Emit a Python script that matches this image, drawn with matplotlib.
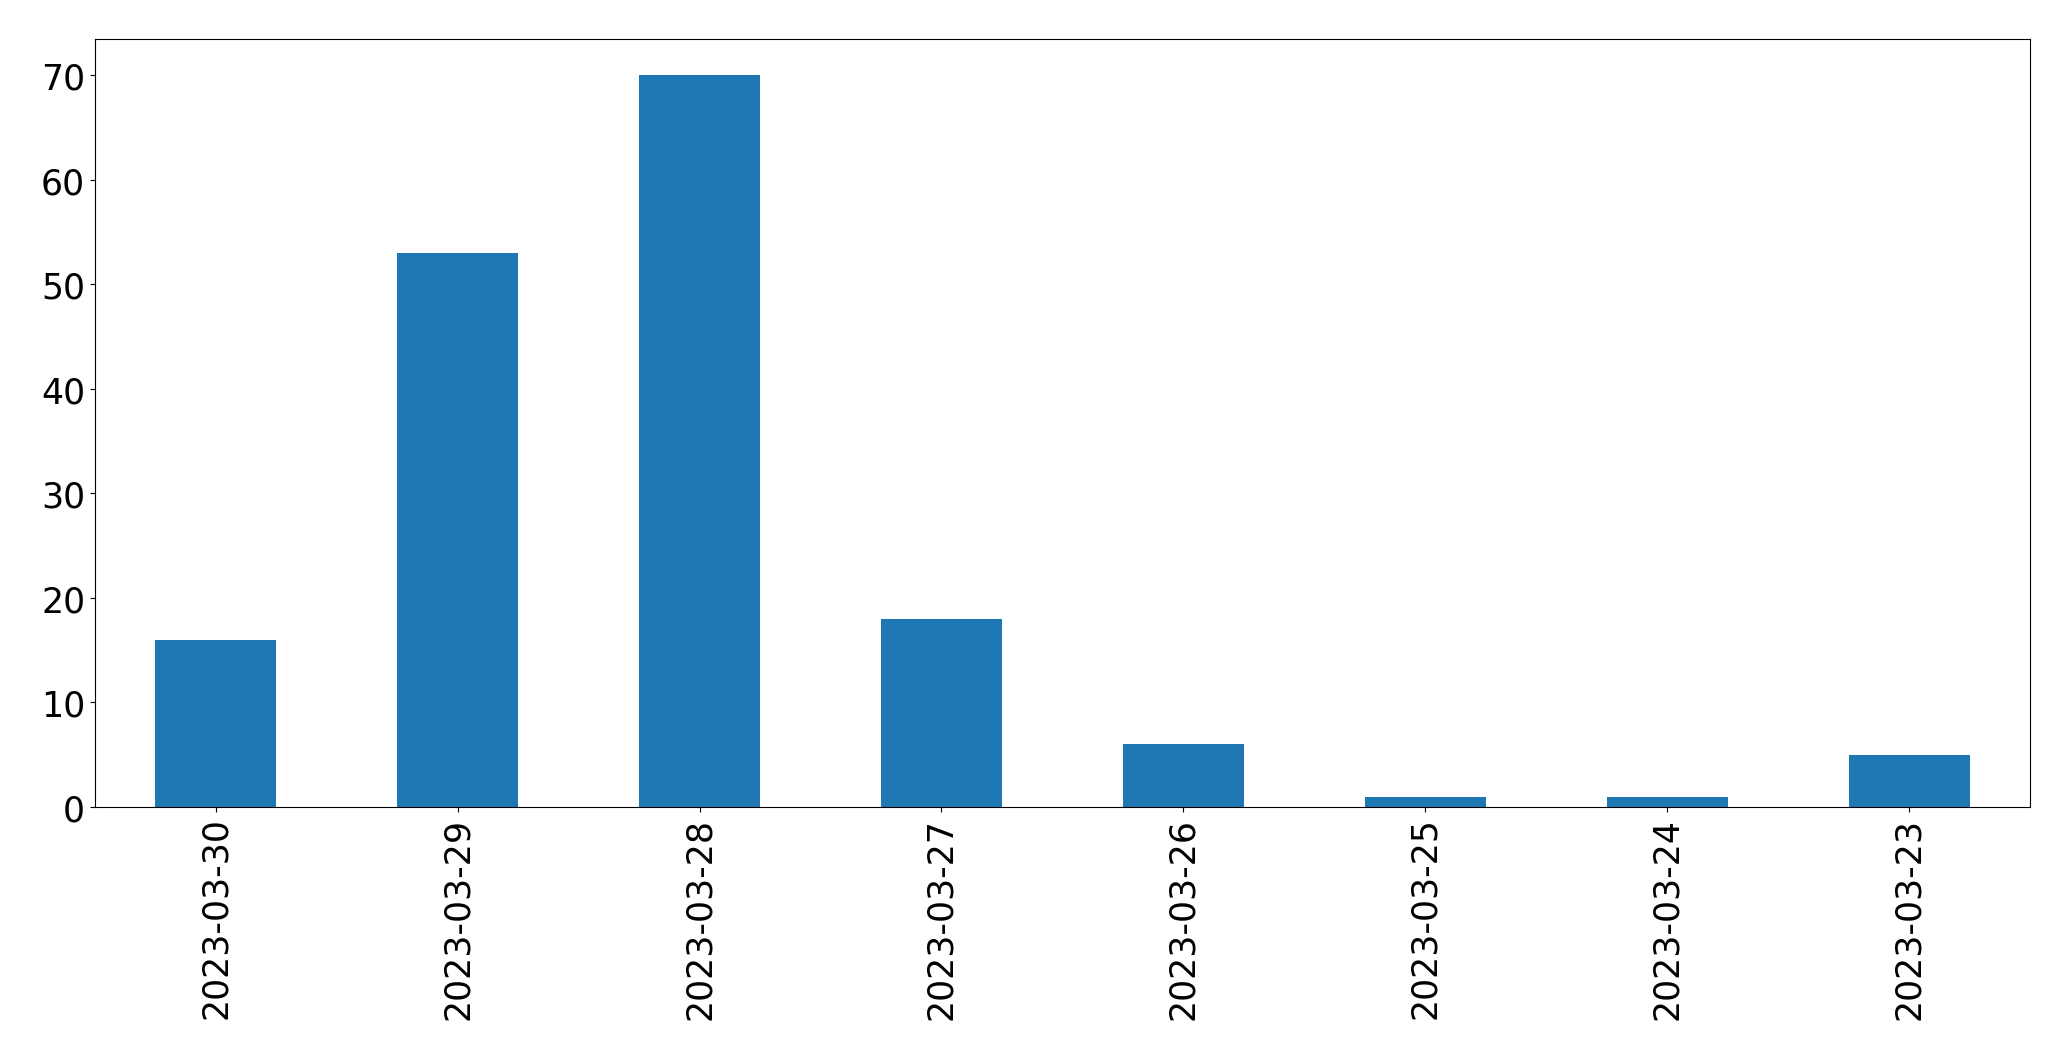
import matplotlib
matplotlib.use("Agg")
import matplotlib.pyplot as plt

dates = ["2023-03-30", "2023-03-29", "2023-03-28", "2023-03-27",
         "2023-03-26", "2023-03-25", "2023-03-24", "2023-03-23"]
counts = [16, 53, 70, 18, 6, 1, 1, 5]

fig = plt.figure(figsize=(20.71, 10.608), dpi=100)
ax = fig.add_axes([0.0458, 0.2385, 0.9344, 0.7242])
x = range(len(dates))
ax.bar(x, counts, width=0.5, color="#1f77b4")
ax.set_xlim(-0.5, len(dates) - 0.5)
ax.set_ylim(0, 73.5)
ax.set_xticks(list(x))
ax.set_xticklabels(dates, rotation=90)
ax.tick_params(labelsize=25)
fig.savefig("out.png", dpi=100)
